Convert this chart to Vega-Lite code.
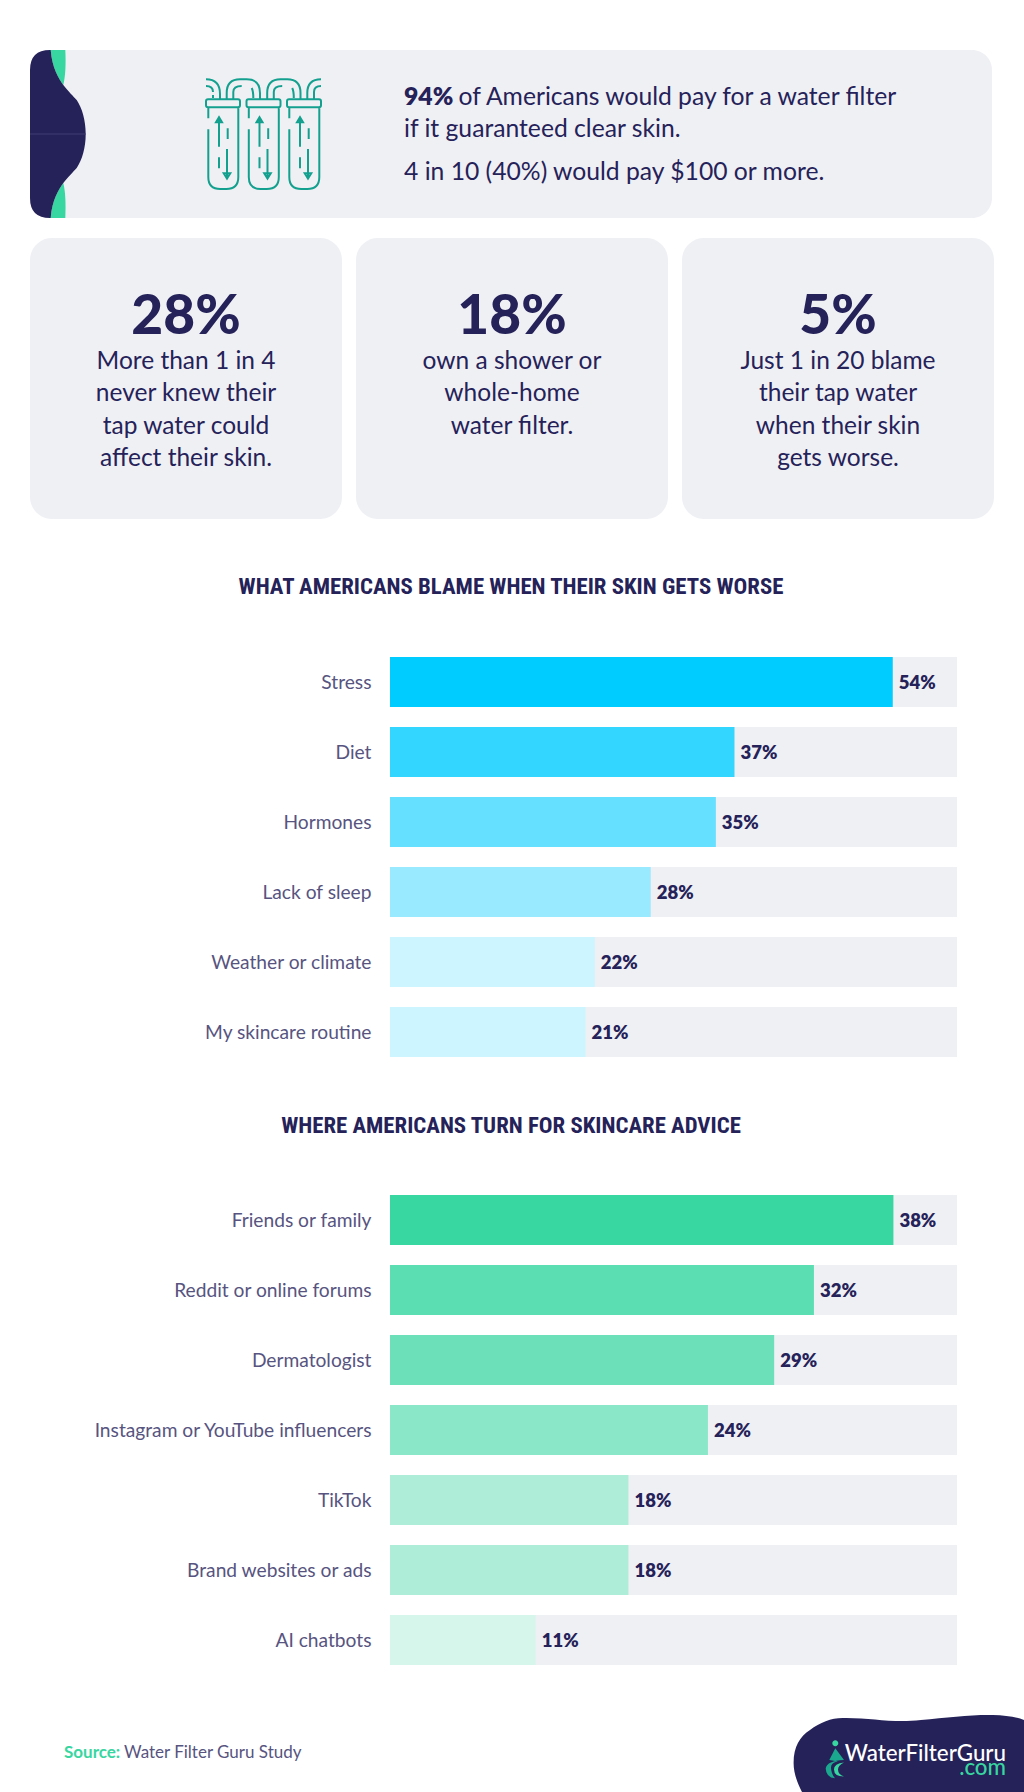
{
  "$schema": "https://vega.github.io/schema/vega-lite/v6.json",
  "background": "white",
  "padding": {"left": 28, "top": 50, "right": 0, "bottom": 0},
  "spacing": 20,
  "resolve": {"scale": {"color": "independent"}},
  "config": {"view": {"stroke": null}, "text": {"font": "Lato"}},
  "vconcat": [
    {
      "width": 962,
      "height": 168,
      "view": {"fill": "#eff0f4", "cornerRadius": 20, "stroke": null},
      "data": {"values": [{"id": 1}]},
      "layer": [
        {"mark": {"type": "point", "filled": true, "opacity": 1, "size": 4, "color": "#38d6a0", "strokeWidth": 0,
          "shape": "M -460.3,-84 L -445.7,-84 C -445,-70 -445.5,-58 -447.7,-49 C -452,-55 -459,-66 -460.3,-84 Z M -460.3,84 L -445.7,84 C -445,70 -445.5,58 -447.7,49 C -452,55 -459,66 -460.3,84 Z"}},
        {"mark": {"type": "point", "filled": true, "opacity": 1, "size": 4, "color": "#252259", "strokeWidth": 0,
          "shape": "M -461,-84 L -460.3,-84 C -459,-66 -452,-55 -447.7,-49 C -442,-42 -438,-38 -434.3,-34 C -429,-26 -425.3,-14 -425.3,0 C -425.3,14 -429,26 -434.3,34 C -438,38 -442,42 -447.7,49 C -452,55 -459,66 -460.3,84 L -461,84 Q -481,84 -481,64 L -481,-64 Q -481,-84 -461,-84 Z"}},
        {"mark": {"type": "point", "filled": false, "opacity": 1, "size": 4, "color": "#403c75", "strokeWidth": 1, "shape": "M -481,0 L -425.3,0"}},
        {"mark": {"type": "point", "filled": false, "opacity": 1, "size": 4, "color": "#14a08f", "strokeWidth": 2,
          "shape": "M -302.7,-26.7 v11 m0,11 v47.7 q0,12 12,12 h6 q12,0 12,-12 V-26.7 M -303,-34.7 h30 q2,0 2,2 v4 q0,2 -2,2 h-30 q-2,0 -2,-2 v-4 q0,-2 2,-2 z M -292,12.7 V-14 m-3,2.3 l3,-5 l3,5 z M -283.3,-5.7 V5 M -284,15 V42.7 m-3.3,-3.4 h6.6 l-3.3,5.4 z M -292,23.3 V34.3 M -262.2,-26.7 v11 m0,11 v47.7 q0,12 12,12 h6 q12,0 12,-12 V-26.7 M -262.5,-34.7 h30 q2,0 2,2 v4 q0,2 -2,2 h-30 q-2,0 -2,-2 v-4 q0,-2 2,-2 z M -251.5,12.7 V-14 m-3,2.3 l3,-5 l3,5 z M -242.8,-5.7 V5 M -243.5,15 V42.7 m-3.3,-3.4 h6.6 l-3.3,5.4 z M -251.5,23.3 V34.3 M -221.7,-26.7 v11 m0,11 v47.7 q0,12 12,12 h6 q12,0 12,-12 V-26.7 M -222,-34.7 h30 q2,0 2,2 v4 q0,2 -2,2 h-30 q-2,0 -2,-2 v-4 q0,-2 2,-2 z M -211,12.7 V-14 m-3,2.3 l3,-5 l3,5 z M -202.3,-5.7 V5 M -203,15 V42.7 m-3.3,-3.4 h6.6 l-3.3,5.4 z M -211,23.3 V34.3 M -305,-54.7 Q -291,-54.7 -291,-40 V -34.7 M -305,-48 Q -298,-48 -298,-42 M -298,-39 V-36 M -284.3,-34.7 V -41 Q -284.3,-54.7 -271,-54.7 H -264.3 Q -251,-54.7 -251,-41 V -34.7 M -277.7,-34.7 V -42 Q -277.7,-48 -269.3,-48 M -259.3,-46 Q -257.7,-43 -257.7,-36 M -243.8,-34.7 V -41 Q -243.8,-54.7 -230.5,-54.7 H -223.8 Q -210.5,-54.7 -210.5,-41 V -34.7 M -237.2,-34.7 V -42 Q -237.2,-48 -228.8,-48 M -218.8,-46 Q -217.2,-43 -217.2,-36 M -203.7,-34.7 V -41 Q -203.7,-54.7 -190,-54.7 M -197,-34.7 V -42 Q -197,-48 -190,-48"}},
        {
          "data": {"values": [{"run": "bold", "line": 1, "text": "94%"}]},
          "mark": {"type": "text", "align": "left", "baseline": "middle", "fontSize": 24.7, "fontWeight": 800, "color": "#252259"},
          "encoding": {
            "x": {"field": "run", "type": "nominal", "axis": null, "scale": {"domain": ["bold", "rest"], "range": [374, 428.5], "padding": 0}},
            "y": {"field": "line", "type": "quantitative", "axis": null, "scale": {"domain": [1, 2, 3], "range": [48, 79.5, 123], "zero": false, "nice": false}},
            "text": {"field": "text"}
          }
        },
        {
          "data": {"values": [
            {"run": "rest", "line": 1, "text": "of Americans would pay for a water filter"},
            {"run": "bold", "line": 2, "text": "if it guaranteed clear skin."},
            {"run": "bold", "line": 3, "text": "4 in 10 (40%) would pay $100 or more."}
          ]},
          "mark": {"type": "text", "align": "left", "baseline": "middle", "fontSize": 24.7, "color": "#252259"},
          "encoding": {
            "x": {"field": "run", "type": "nominal", "axis": null, "scale": {"domain": ["bold", "rest"], "range": [374, 428.5], "padding": 0}},
            "y": {"field": "line", "type": "quantitative", "axis": null, "scale": {"domain": [1, 2, 3], "range": [48, 79.5, 123], "zero": false, "nice": false}},
            "text": {"field": "text"}
          }
        }
      ]
    },
    {
      "spacing": 14,
      "hconcat": [
        {
          "width": 312, "height": 281,
          "view": {"fill": "#eff0f4", "cornerRadius": 22, "stroke": null},
          "encoding": {
            "y": {"field": "line", "type": "quantitative", "axis": null, "scale": {"domain": [0, 1, 4], "range": [78.5, 124, 221], "zero": false, "nice": false}},
            "text": {"field": "text"}
          },
          "layer": [
            {"data": {"values": [{"line": 0, "text": "28%"}]},
              "mark": {"type": "text", "baseline": "middle", "fontSize": 55, "fontWeight": 900, "color": "#252259"}},
            {"data": {"values": [
              {"line": 1, "text": "More than 1 in 4"},
              {"line": 2, "text": "never knew their"},
              {"line": 3, "text": "tap water could"},
              {"line": 4, "text": "affect their skin."}
            ]},
              "mark": {"type": "text", "baseline": "middle", "fontSize": 24.5, "color": "#252259"}}
          ]
        },
        {
          "width": 312, "height": 281,
          "view": {"fill": "#eff0f4", "cornerRadius": 22, "stroke": null},
          "encoding": {
            "y": {"field": "line", "type": "quantitative", "axis": null, "scale": {"domain": [0, 1, 4], "range": [78.5, 124, 221], "zero": false, "nice": false}},
            "text": {"field": "text"}
          },
          "layer": [
            {"data": {"values": [{"line": 0, "text": "18%"}]},
              "mark": {"type": "text", "baseline": "middle", "fontSize": 55, "fontWeight": 900, "color": "#252259"}},
            {"data": {"values": [
              {"line": 1, "text": "own a shower or"},
              {"line": 2, "text": "whole-home"},
              {"line": 3, "text": "water filter."}
            ]},
              "mark": {"type": "text", "baseline": "middle", "fontSize": 24.5, "color": "#252259"}}
          ]
        },
        {
          "width": 312, "height": 281,
          "view": {"fill": "#eff0f4", "cornerRadius": 22, "stroke": null},
          "encoding": {
            "y": {"field": "line", "type": "quantitative", "axis": null, "scale": {"domain": [0, 1, 4], "range": [78.5, 124, 221], "zero": false, "nice": false}},
            "text": {"field": "text"}
          },
          "layer": [
            {"data": {"values": [{"line": 0, "text": "5%"}]},
              "mark": {"type": "text", "baseline": "middle", "fontSize": 55, "fontWeight": 900, "color": "#252259"}},
            {"data": {"values": [
              {"line": 1, "text": "Just 1 in 20 blame"},
              {"line": 2, "text": "their tap water"},
              {"line": 3, "text": "when their skin"},
              {"line": 4, "text": "gets worse."}
            ]},
              "mark": {"type": "text", "baseline": "middle", "fontSize": 24.5, "color": "#252259"}}
          ]
        }
      ]
    },
    {
      "width": 962, "height": 98,
      "data": {"values": [{"title": "WHAT AMERICANS BLAME WHEN THEIR SKIN GETS WORSE"}]},
      "mark": {"type": "text", "font": "Roboto Condensed", "fontWeight": "bold", "fontSize": 22.8, "color": "#252259", "baseline": "middle", "dy": -1},
      "encoding": {"text": {"field": "title"}}
    },
    {
      "width": 962, "height": 400,
      "data": {"values": [
        {"category": "Stress", "share": 0.54},
        {"category": "Diet", "share": 0.37},
        {"category": "Hormones", "share": 0.35},
        {"category": "Lack of sleep", "share": 0.28},
        {"category": "Weather or climate", "share": 0.22},
        {"category": "My skincare routine", "share": 0.21}
      ]},
      "encoding": {
        "y": {"field": "category", "type": "nominal", "sort": null, "title": null,
          "scale": {"paddingInner": 0.2857, "paddingOuter": 0},
          "axis": {"orient": "left", "offset": -341, "domain": false, "ticks": false, "labelPadding": 0, "labelOffset": 1, "labelFont": "Lato", "labelFontSize": 19.2, "labelColor": "#57547f", "labelLimit": 400}}
      },
      "layer": [
        {"mark": {"type": "bar", "color": "#eff0f4"},
          "encoding": {"x": {"datum": 0.609, "type": "quantitative", "axis": null, "scale": {"domain": [0, 0.609], "range": [360, 927], "nice": false}}}},
        {"mark": {"type": "bar"},
          "encoding": {
            "x": {"field": "share", "type": "quantitative", "axis": null, "scale": {"domain": [0, 0.609], "range": [360, 927], "nice": false}},
            "color": {"field": "category", "type": "nominal", "sort": null, "legend": null,
              "scale": {"domain": ["Stress", "Diet", "Hormones", "Lack of sleep", "Weather or climate", "My skincare routine"],
                "range": ["#00ccff", "#33d6ff", "#66e0ff", "#99eaff", "#ccf5ff", "#ccf5ff"]}}
          }},
        {"mark": {"type": "text", "align": "left", "baseline": "middle", "dx": 6, "dy": 1, "fontSize": 18.5, "fontWeight": 800, "color": "#252259"},
          "encoding": {
            "x": {"field": "share", "type": "quantitative", "axis": null, "scale": {"domain": [0, 0.609], "range": [360, 927], "nice": false}},
            "text": {"field": "share", "format": ".0%"}
          }}
      ]
    },
    {
      "width": 962, "height": 98,
      "data": {"values": [{"title": "WHERE AMERICANS TURN FOR SKINCARE ADVICE"}]},
      "mark": {"type": "text", "font": "Roboto Condensed", "fontWeight": "bold", "fontSize": 22.8, "color": "#252259", "baseline": "middle", "dy": 0},
      "encoding": {"text": {"field": "title"}}
    },
    {
      "width": 962, "height": 470,
      "data": {"values": [
        {"category": "Friends or family", "share": 0.38},
        {"category": "Reddit or online forums", "share": 0.32},
        {"category": "Dermatologist", "share": 0.29},
        {"category": "Instagram or YouTube influencers", "share": 0.24},
        {"category": "TikTok", "share": 0.18},
        {"category": "Brand websites or ads", "share": 0.18},
        {"category": "AI chatbots", "share": 0.11}
      ]},
      "encoding": {
        "y": {"field": "category", "type": "nominal", "sort": null, "title": null,
          "scale": {"paddingInner": 0.2857, "paddingOuter": 0},
          "axis": {"orient": "left", "offset": -341, "domain": false, "ticks": false, "labelPadding": 0, "labelOffset": 1, "labelFont": "Lato", "labelFontSize": 19.2, "labelColor": "#57547f", "labelLimit": 400}}
      },
      "layer": [
        {"mark": {"type": "bar", "color": "#eff0f4"},
          "encoding": {"x": {"datum": 0.428, "type": "quantitative", "axis": null, "scale": {"domain": [0, 0.428], "range": [360, 927], "nice": false}}}},
        {"mark": {"type": "bar"},
          "encoding": {
            "x": {"field": "share", "type": "quantitative", "axis": null, "scale": {"domain": [0, 0.428], "range": [360, 927], "nice": false}},
            "color": {"field": "category", "type": "nominal", "sort": null, "legend": null,
              "scale": {"domain": ["Friends or family", "Reddit or online forums", "Dermatologist", "Instagram or YouTube influencers", "TikTok", "Brand websites or ads", "AI chatbots"],
                "range": ["#38d6a0", "#5bdeb2", "#6be0b9", "#8ae7c7", "#aeeed8", "#aeeed8", "#d7f6eb"]}}
          }},
        {"mark": {"type": "text", "align": "left", "baseline": "middle", "dx": 6, "dy": 1, "fontSize": 18.5, "fontWeight": 800, "color": "#252259"},
          "encoding": {
            "x": {"field": "share", "type": "quantitative", "axis": null, "scale": {"domain": [0, 0.428], "range": [360, 927], "nice": false}},
            "text": {"field": "share", "format": ".0%"}
          }}
      ]
    },
    {
      "width": 994, "height": 107,
      "data": {"values": [{"id": 1}]},
      "resolve": {"scale": {"x": "independent", "y": "independent"}},
      "layer": [
        {"mark": {"type": "point", "filled": true, "opacity": 1, "size": 4, "color": "#252259", "strokeWidth": 0,
          "shape": "M 275,53.5 C 270,44 266.6,34 266.6,24.5 C 266.6,8 273,-2 283,-8.5 C 293,-16 304,-20.5 315.6,-20.5 C 345,-21 365,-15 394,-18.5 C 420,-21 445,-24 466,-23.5 C 478,-23 488,-22 497,-18.5 L 497,53.5 Z"}},
        {"mark": {"type": "point", "filled": true, "opacity": 1, "size": 4, "color": "#1aa88f", "strokeWidth": 0,
          "shape": "M 308.3,9.8 L 317,21.5 Q 300,22 298.7,30 Q 299,39 308,39.8 Q 304,35 304,29 Q 304,24 311,23 L 302.3,21.5 Z"}},
        {"mark": {"type": "point", "filled": true, "opacity": 1, "size": 4, "color": "#38d6a0", "strokeWidth": 0,
          "shape": "M 308.3,1.8 a 3,3 0 1 0 0.01,0 Z M 317,24 Q 307,25 307,31 Q 307,38 317,38 Q 311,36 311,31 Q 311,27 317,24 Z"}},
        {
          "data": {"values": [{"text": "Source:"}]},
          "mark": {"type": "text", "align": "left", "baseline": "middle", "fontSize": 17, "fontWeight": 700, "color": "#38d6a0"},
          "encoding": {
            "x": {"field": "text", "type": "nominal", "axis": null, "scale": {"domain": ["Source:", "Water Filter Guru Study"], "range": [34, 94], "padding": 0}},
            "y": {"field": "text", "type": "nominal", "axis": null, "scale": {"domain": ["Source:", "Water Filter Guru Study"], "range": [68, 68], "padding": 0}},
            "text": {"field": "text"}
          }
        },
        {
          "data": {"values": [{"text": "Water Filter Guru Study"}]},
          "mark": {"type": "text", "align": "left", "baseline": "middle", "fontSize": 17, "color": "#57547f"},
          "encoding": {
            "x": {"field": "text", "type": "nominal", "axis": null, "scale": {"domain": ["Source:", "Water Filter Guru Study"], "range": [34, 94], "padding": 0}},
            "y": {"field": "text", "type": "nominal", "axis": null, "scale": {"domain": ["Source:", "Water Filter Guru Study"], "range": [68, 68], "padding": 0}},
            "text": {"field": "text"}
          }
        },
        {
          "data": {"values": [{"text": "WaterFilterGuru"}]},
          "mark": {"type": "text", "align": "right", "baseline": "middle", "fontSize": 22.3, "fontWeight": 500, "color": "#ffffff"},
          "encoding": {
            "x": {"field": "text", "type": "nominal", "axis": null, "scale": {"domain": ["WaterFilterGuru", ".com"], "range": [976, 976], "padding": 0}},
            "y": {"field": "text", "type": "nominal", "axis": null, "scale": {"domain": ["WaterFilterGuru", ".com"], "range": [68.5, 83], "padding": 0}},
            "text": {"field": "text"}
          }
        },
        {
          "data": {"values": [{"text": ".com"}]},
          "mark": {"type": "text", "align": "right", "baseline": "middle", "fontSize": 22.3, "fontWeight": 500, "color": "#38d6a0"},
          "encoding": {
            "x": {"field": "text", "type": "nominal", "axis": null, "scale": {"domain": ["WaterFilterGuru", ".com"], "range": [976, 976], "padding": 0}},
            "y": {"field": "text", "type": "nominal", "axis": null, "scale": {"domain": ["WaterFilterGuru", ".com"], "range": [68.5, 83], "padding": 0}},
            "text": {"field": "text"}
          }
        }
      ]
    }
  ]
}
